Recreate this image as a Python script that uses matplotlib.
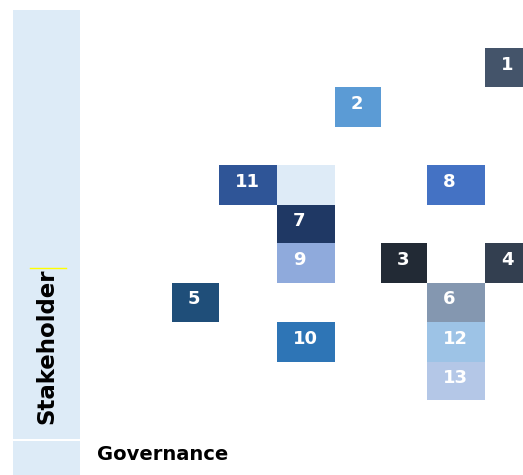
import matplotlib.pyplot as plt

# cell data: label, grid row, grid column, fill colour
labels = ['1', '2', '11', '', '8', '7', '9', '3', '4', '5', '6', '10', '12', '13']
rows   = [1, 2, 4, 4, 4, 5, 6, 6, 6, 7, 7, 8, 8, 9]
cols   = [8, 5, 3, 4, 7, 4, 4, 6, 8, 2, 7, 4, 7, 7]
colors = ['#44546A', '#5B9BD5', '#2F5597', '#DEEBF7', '#4472C4', '#1F3864',
          '#8FAADC', '#222A35', '#333F50', '#1F4E79', '#8497B0', '#2E75B6',
          '#9DC3E6', '#B4C7E7']

y_label = 'Stakeholder'
x_label = 'Governance'

# grid layout (pixels)
col_edges = [80, 126, 172, 219, 277, 335, 381, 427, 485, 543]
row_edges = [10, 48, 87, 127, 165, 205, 243, 283, 322, 362, 400, 438]
band = '#DDEBF7'

fig = plt.figure(figsize=(5.23, 4.75), dpi=100)
ax = fig.add_axes([0, 0, 1, 1])
ax.set_xlim(0, 523)
ax.set_ylim(475, 0)
ax.axis('off')

# left band and bottom corner cell
ax.bar(13, 439 - 10, bottom=10, width=67, align='edge', color=band, linewidth=0)
ax.bar(13, 475 - 441, bottom=441, width=67, align='edge', color=band, linewidth=0)

lefts = [col_edges[c] for c in cols]
widths = [col_edges[c + 1] - col_edges[c] for c in cols]
tops = [row_edges[r] for r in rows]
heights = [row_edges[r + 1] - row_edges[r] for r in rows]
ax.bar(lefts, heights, bottom=tops, width=widths, align='edge',
       color=colors, linewidth=0)

for lab, x, y, h in zip(labels, lefts, tops, heights):
    ax.text(x + 16, y + h / 2 - 3, lab, ha='left', va='center',
            color='white', fontsize=13, fontweight='bold')

ax.text(47, 424, y_label, rotation=90, ha='center', va='bottom',
        fontsize=16.5, fontweight='bold', color='black')
ax.text(97, 455, x_label, ha='left', va='center',
        fontsize=14, fontweight='bold', color='black')
ax.plot([30, 66], [268, 268], color='#FFFF00', linewidth=1)

fig.savefig('out.png', dpi=100)
